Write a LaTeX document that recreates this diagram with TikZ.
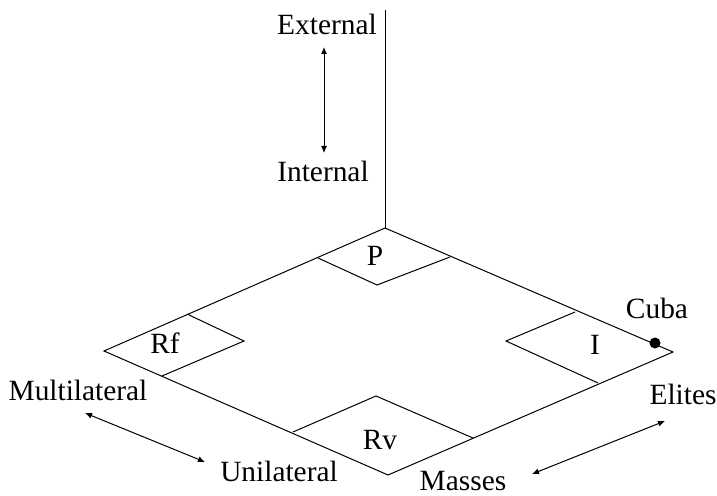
\documentclass[tikz,border=0pt]{standalone}
\usepackage{fontspec}
\setmainfont{Liberation Serif}
\usetikzlibrary{arrows.meta}
\tikzset{
  lbl/.style={font=\fontsize{29.5}{31}\selectfont, inner sep=0pt},
  twoway/.style={{Latex[length=7bp,width=6bp]}-{Latex[length=7bp,width=6bp]}}
}
\begin{document}
\begin{tikzpicture}[x=1bp,y=-1bp,line width=1bp]
  \useasboundingbox (0,0) rectangle (717,496);
  % the plane and its axis
  \coordinate (top) at (385,228);
  \coordinate (left) at (104,351);
  \coordinate (bottom) at (388,475);
  \coordinate (right) at (673,352);
  \coordinate (axis) at (385,10);
  \draw (axis) -- (top);
  \draw (top) -- (left) -- (bottom) -- (right) -- cycle;
  % corner boxes
  \draw (318,258) -- (377,285) -- (450,257);
  \draw (187,314) -- (244,341) -- (162,376);
  \draw (575,312) -- (506,341) -- (598,383);
  \draw (293,432) -- (376,396) -- (473,438);
  \node[lbl] (P) at (375,256) {P};
  \node[lbl] (Rf) at (165,343) {Rf};
  \node[lbl] (I) at (595,345) {I};
  \node[lbl] (Rv) at (380,440) {Rv};
  % Cuba
  \coordinate (cubadot) at (655,343);
  \fill (cubadot) circle (5.5);
  \node[lbl] (cuba) at (657,308) {Cuba};
  % labels
  \node[lbl] (ext) at (327,24) {External};
  \node[lbl] (int) at (323,171) {Internal};
  \node[lbl] (multi) at (78,390) {Multilateral};
  \node[lbl] (uni) at (279,471) {Unilateral};
  \node[lbl] (masses) at (463,481) {Masses};
  \node[lbl] (elites) at (683,394) {Elites};
  % two-way arrows
  \coordinate (a1) at (324,47);
  \coordinate (a2) at (324,153);
  \coordinate (b1) at (85,413);
  \coordinate (b2) at (205,462);
  \coordinate (c1) at (665,421);
  \coordinate (c2) at (532,474);
  \draw[twoway] (a1) -- (a2);
  \draw[twoway] (b1) -- (b2);
  \draw[twoway] (c1) -- (c2);
\end{tikzpicture}
\end{document}
